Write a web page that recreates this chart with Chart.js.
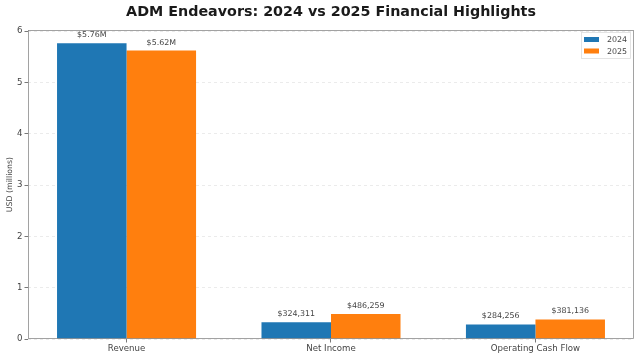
<!DOCTYPE html>
<html>
<head>
<meta charset="utf-8">
<script src="https://cdn.jsdelivr.net/npm/chart.js@4.4.1/dist/chart.umd.min.js"></script>
<style>
  html, body { margin: 0; padding: 0; background: #fff; }
  #c { display: block; }
</style>
</head>
<body>
<canvas id="c" width="640" height="359"></canvas>
<script>
// ---- data ----
const categories = ["Revenue", "Net Income", "Operating Cash Flow"];
const seriesLabels = ["2024", "2025"];
const values2024 = [5760000, 324311, 284256];   // USD
const values2025 = [5620000, 486259, 381136];   // USD
const yTicks = [0, 1, 2, 3, 4, 5, 6];
const titleText = "ADM Endeavors: 2024 vs 2025 Financial Highlights";
const yAxisTitle = "USD (millions)";

const colors = ["#1f77b4", "#ff7f0e"];
const FONT = "'DejaVu Sans', sans-serif";

function fmt(v) {
  if (v >= 1e6) return "$" + (v / 1e6).toFixed(2) + "M";
  return "$" + v.toLocaleString("en-US");
}

const rawSeries = [values2024, values2025];
const datasets = rawSeries.map((vals, i) => ({
  label: seriesLabels[i],
  data: vals.map((v, j) => ({ x: j, y: v / 1e6 })),
  raw: vals,
  backgroundColor: colors[i],
  borderWidth: 0,
  categoryPercentage: 0.68,
  barPercentage: 1.0
}));

const framePlugin = {
  id: "frame",
  beforeDraw(chart) {
    const ctx = chart.ctx;
    ctx.save();
    ctx.fillStyle = "#fff";
    ctx.fillRect(0, 0, chart.width, chart.height);
    ctx.restore();
  },
  afterDatasetsDraw(chart) {
    const ctx = chart.ctx;
    const a = chart.chartArea;
    ctx.save();
    // value labels
    ctx.font = "7.9px " + FONT;
    ctx.fillStyle = "#444";
    ctx.textAlign = "center";
    ctx.textBaseline = "middle";
    chart.data.datasets.forEach((ds, di) => {
      const meta = chart.getDatasetMeta(di);
      meta.data.forEach((bar, j) => {
        ctx.fillText(fmt(ds.raw[j]), bar.x, bar.y - 8);
      });
    });
    // frame
    ctx.strokeStyle = "#8c8c8c";
    ctx.lineWidth = 0.8;
    ctx.strokeRect(Math.round(a.left) + 0.5, Math.round(a.top) + 0.5,
                   Math.round(a.right - a.left) - 1, Math.round(a.bottom - a.top) - 1);
    // title
    ctx.font = "bold 14.3px " + FONT;
    ctx.fillStyle = "#1a1a1a";
    ctx.textAlign = "center";
    ctx.textBaseline = "middle";
    ctx.fillText(titleText, 331, 12);
    // y-axis title
    ctx.save();
    ctx.translate(9.5, (a.top + a.bottom) / 2);
    ctx.rotate(-Math.PI / 2);
    ctx.font = "7.8px " + FONT;
    ctx.fillStyle = "#444";
    ctx.fillText(yAxisTitle, 0, 0);
    ctx.restore();
    // legend
    const lx = 581, ly = 32, lw = 50, lh = 27;
    ctx.fillStyle = "rgba(255,255,255,0.8)";
    ctx.fillRect(lx, ly, lw, lh);
    ctx.strokeStyle = "#dddddd";
    ctx.lineWidth = 0.8;
    ctx.strokeRect(lx + 0.5, ly + 0.5, lw - 1, lh - 1);
    ctx.font = "7.9px " + FONT;
    ctx.textAlign = "left";
    ctx.textBaseline = "middle";
    chart.data.datasets.forEach((ds, i) => {
      const cy = ly + 7.5 + i * 11.5;
      ctx.fillStyle = ds.backgroundColor;
      ctx.fillRect(lx + 3, cy - 2.5, 15, 5);
      ctx.fillStyle = "#444";
      ctx.fillText(ds.label, lx + 26, cy + 0.5);
    });
    ctx.restore();
  }
};

new Chart(document.getElementById("c"), {
  type: "bar",
  data: { datasets },
  options: {
    responsive: false,
    devicePixelRatio: 1,
    animation: false,
    layout: { padding: { top: 30, left: 0, right: 6, bottom: 0 } },
    plugins: {
      legend: { display: false },
      title: { display: false },
      tooltip: { enabled: false }
    },
    scales: {
      x: {
        type: "linear",
        offset: false,
        min: -0.482,
        max: 2.482,
        afterBuildTicks(scale) {
          scale.ticks = categories.map((_, i) => ({ value: i }));
        },
        afterFit(scale) { scale.height = 20; },
        ticks: {
          callback: (v) => categories[v],
          font: { family: FONT, size: 8.6 },
          color: "#444",
          padding: 1,
          maxRotation: 0,
          autoSkip: false
        },
        grid: {
          offset: false,
          drawOnChartArea: false,
          drawTicks: true,
          tickLength: 3.5,
          tickColor: "#555",
          tickWidth: 0.8
        },
        border: { display: false }
      },
      y: {
        min: 0,
        max: 6.02,
        afterBuildTicks(scale) {
          scale.ticks = yTicks.map(v => ({ value: v }));
        },
        afterFit(scale) { scale.width = 28; },
        ticks: {
          font: { family: FONT, size: 8.6 },
          color: "#444",
          padding: 2
        },
        grid: {
          color: "rgba(160,160,160,0.35)",
          lineWidth: 0.6,
          drawTicks: true,
          tickLength: 3.5,
          tickColor: "#555",
          tickWidth: 0.8,
          tickBorderDash: []
        },
        border: { display: false, dash: [3, 3] }
      }
    }
  },
  plugins: [framePlugin]
});
</script>
</body>
</html>
